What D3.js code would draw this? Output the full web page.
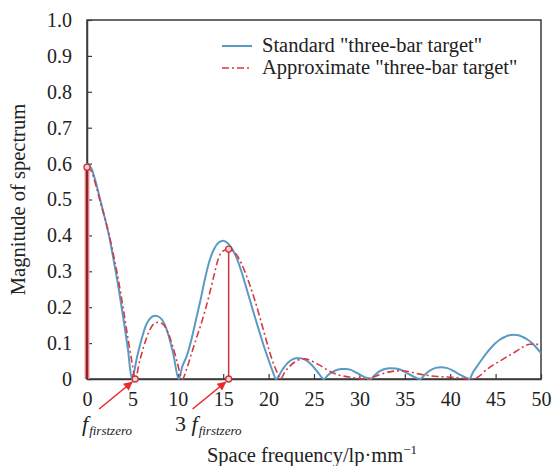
<!DOCTYPE html>
<html>
<head>
<meta charset="utf-8">
<script src="https://cdn.jsdelivr.net/npm/d3@7"></script>
<style>
body { margin: 0; background: #fff; }
svg { font-family: "Liberation Serif", "Times New Roman", serif; }
</style>
</head>
<body>
<div id="chart"></div>
<script>
// standard "three-bar target" spectrum
var stdFreq = [0, 0.5, 1, 1.5, 2, 2.5, 3, 3.5, 4, 4.5, 4.95,
    5.5, 6, 6.5, 7, 7.5, 8, 8.5, 9, 9.5, 10.1,
    10.5, 11, 11.5, 12, 12.5, 13, 13.5, 14, 14.5, 15, 15.5, 16, 16.5, 17, 17.5, 18, 18.5, 19, 19.5, 20, 20.5, 20.8,
    21.5, 22, 22.5, 23, 23.5, 24, 24.5, 25, 25.5, 26.1,
    26.5, 27, 27.5, 28, 28.5, 29, 29.5, 30, 30.5, 31.2,
    31.7, 32.2, 32.7, 33.4, 34, 34.6, 35.2, 35.8, 36.7,
    37.2, 37.8, 38.4, 39, 39.6, 40.2, 40.8, 41.4, 42.1,
    42.5, 43, 43.5, 44, 44.5, 45, 45.5, 46, 46.5, 47, 47.5, 48, 48.5, 49, 49.5, 50];
var stdMag = [0.600, 0.586, 0.545, 0.495, 0.445, 0.39, 0.322, 0.25, 0.17, 0.085, 0,
    0.06, 0.11, 0.15, 0.17, 0.176, 0.172, 0.155, 0.12, 0.07, 0,
    0.035, 0.065, 0.11, 0.165, 0.22, 0.28, 0.33, 0.362, 0.38, 0.385, 0.378, 0.362, 0.336, 0.3, 0.258, 0.215, 0.172, 0.13, 0.09, 0.053, 0.018, 0,
    0.025, 0.042, 0.053, 0.058, 0.058, 0.054, 0.045, 0.032, 0.016, 0,
    0.01, 0.019, 0.025, 0.028, 0.028, 0.026, 0.02, 0.013, 0.006, 0,
    0.011, 0.021, 0.027, 0.03, 0.029, 0.025, 0.017, 0.009, 0,
    0.012, 0.024, 0.031, 0.033, 0.031, 0.025, 0.016, 0.008, 0,
    0.018, 0.037, 0.055, 0.072, 0.087, 0.1, 0.11, 0.117, 0.122, 0.123, 0.122, 0.117, 0.11, 0.1, 0.087, 0.072];

// approximate "three-bar target" spectrum
var apxFreq = [0, 0.5, 1, 1.5, 2, 2.5, 3, 3.5, 4, 4.5, 5, 5.3,
    5.8, 6.3, 6.8, 7.3, 7.85, 8.4, 8.9, 9.4, 9.9, 10.5,
    11, 11.5, 12, 12.5, 13, 13.5, 14, 14.5, 15, 15.6, 16, 16.5, 17, 17.5, 18, 18.5, 19, 19.5, 20, 20.5, 21, 21.3,
    21.8, 22.3, 22.8, 23.4, 24, 24.6, 25.2, 25.8, 26.4, 27, 27.6, 28.3, 29, 29.8, 30.6,
    31.4, 32.2, 33, 33.8, 34.6, 35.4, 36.2, 37, 37.8, 38.6, 39.4, 40.2, 41, 41.8, 42.6,
    43.2, 44, 44.8, 45.6, 46.4, 47.2, 48, 48.8, 49.4, 50];
var apxMag = [0.59, 0.578, 0.537, 0.49, 0.445, 0.395, 0.335, 0.27, 0.195, 0.115, 0.04, 0,
    0.05, 0.095, 0.13, 0.152, 0.158, 0.152, 0.13, 0.095, 0.05, 0,
    0.03, 0.07, 0.11, 0.148, 0.19, 0.238, 0.29, 0.338, 0.357, 0.362, 0.358, 0.345, 0.322, 0.292, 0.257, 0.218, 0.175, 0.13, 0.085, 0.045, 0.015, 0,
    0.02, 0.035, 0.046, 0.054, 0.056, 0.052, 0.044, 0.036, 0.026, 0.018, 0.012, 0.008, 0.005, 0.002, 0,
    0.004, 0.012, 0.018, 0.022, 0.023, 0.021, 0.016, 0.012, 0.009, 0.007, 0.006, 0.005, 0.003, 0.001, 0,
    0.008, 0.026, 0.04, 0.052, 0.064, 0.076, 0.089, 0.097, 0.097, 0.095];

var seriesNames = ['Standard "three-bar target"', 'Approximate "three-bar target"'];
var xTicks = [0, 5, 10, 15, 20, 25, 30, 35, 40, 45, 50];
var yTicks = [0, 0.1, 0.2, 0.3, 0.4, 0.5, 0.6, 0.7, 0.8, 0.9, 1.0];
var yTickLabels = ["0", "0.1", "0.2", "0.3", "0.4", "0.5", "0.6", "0.7", "0.8", "0.9", "1.0"];

// marked points on the approximate curve
var dcMag = 0.59, firstZero = 5.3, thirdPeakFreq = 15.6, thirdPeakMag = 0.362;

var svg_width = 552, svg_height = 466;
var svg = d3.select("#chart").append("svg")
    .attr("width", svg_width)
    .attr("height", svg_height);

var margin = {top: 20, right: 11, bottom: 87, left: 87},
    width = svg_width - margin.left - margin.right,
    height = svg_height - margin.top - margin.bottom,
    g = svg.append("g").attr("transform", "translate(" + margin.left + "," + margin.top + ")");

var x = d3.scaleLinear().domain([0, 50]).range([0, width]);
var y = d3.scaleLinear().domain([0, 1]).range([height, 0]);

var axisColor = "#3a3a3a", blue = "#5a9bc6", red = "#d63a40";

// frame
g.append("rect")
    .attr("width", width)
    .attr("height", height)
    .attr("fill", "none")
    .attr("stroke", axisColor)
    .attr("stroke-width", 1.5);

// axes, ticks pointing inward
var xAxis = g.append("g")
    .attr("transform", "translate(0," + height + ")")
    .call(d3.axisBottom(x).tickValues(xTicks).tickSizeInner(-5).tickSizeOuter(0).tickPadding(13));
var yAxis = g.append("g")
    .call(d3.axisLeft(y).tickValues(yTicks).tickSizeInner(-5).tickSizeOuter(0).tickPadding(15)
        .tickFormat(function(d, i) { return yTickLabels[i]; }));

[xAxis, yAxis].forEach(function(a) {
    a.select(".domain").attr("stroke", axisColor).attr("stroke-width", 1.5);
    a.selectAll(".tick line").attr("stroke", axisColor).attr("stroke-width", 1.2);
    a.selectAll(".tick text")
        .attr("font-family", '"Liberation Serif", serif')
        .attr("font-size", 20)
        .attr("fill", "#222");
});

// curves
var stdData = stdFreq.map(function(f, i) { return [f, stdMag[i]]; });
var apxData = apxFreq.map(function(f, i) { return [f, apxMag[i]]; });

var line = d3.line()
    .x(function(d) { return x(d[0]); })
    .y(function(d) { return y(d[1]); })
    .curve(d3.curveMonotoneX);

g.append("path")
    .datum(stdData)
    .attr("fill", "none")
    .attr("stroke", blue)
    .attr("stroke-width", 2)
    .attr("d", line);

g.append("path")
    .datum(apxData)
    .attr("fill", "none")
    .attr("stroke", red)
    .attr("stroke-width", 1.6)
    .attr("stroke-dasharray", "7,3,2,3")
    .attr("d", line);

// marker lines
g.append("line")
    .attr("x1", x(0)).attr("x2", x(0))
    .attr("y1", y(0)).attr("y2", y(dcMag))
    .attr("stroke", "#f2a0a4")
    .attr("stroke-width", 5);
g.append("line")
    .attr("x1", x(0)).attr("x2", x(0))
    .attr("y1", y(0)).attr("y2", y(dcMag))
    .attr("stroke", "#8e2327")
    .attr("stroke-width", 2.5);
g.append("line")
    .attr("x1", x(thirdPeakFreq)).attr("x2", x(thirdPeakFreq))
    .attr("y1", y(0)).attr("y2", y(thirdPeakMag))
    .attr("stroke", "#c8343a")
    .attr("stroke-width", 1.5);

var dots = [[0, dcMag], [firstZero, 0], [thirdPeakFreq, 0], [thirdPeakFreq, thirdPeakMag]];
g.selectAll(".dot")
    .data(dots)
    .enter().append("circle")
    .attr("class", "dot")
    .attr("cx", function(d) { return x(d[0]); })
    .attr("cy", function(d) { return y(d[1]); })
    .attr("r", 3)
    .attr("fill", "#f7d0d2")
    .attr("stroke", "#c8343a")
    .attr("stroke-width", 1.3);

// arrows
svg.append("defs").append("marker")
    .attr("id", "arrow")
    .attr("viewBox", "0 0 10 10")
    .attr("refX", 9).attr("refY", 5)
    .attr("markerWidth", 12).attr("markerHeight", 9)
    .attr("markerUnits", "userSpaceOnUse")
    .attr("orient", "auto")
    .append("path")
    .attr("d", "M0,0L10,5L0,10z")
    .attr("fill", "#ee2a2f");

[firstZero, thirdPeakFreq].forEach(function(f) {
    var tx = x(f) - 3, ty = y(0) + 3;
    g.append("line")
        .attr("x1", tx - 33).attr("y1", ty + 27)
        .attr("x2", tx).attr("y2", ty)
        .attr("stroke", "#ee2a2f")
        .attr("stroke-width", 1.6)
        .attr("marker-end", "url(#arrow)");
});

// f_firstzero labels
function fLabel(px, py, prefix) {
    var t = svg.append("text")
        .attr("x", px).attr("y", py)
        .attr("font-family", '"Liberation Serif", serif')
        .attr("fill", "#222");
    if (prefix) {
        t.append("tspan").attr("font-size", 22).text(prefix + " ");
    }
    t.append("tspan").attr("font-size", 22).attr("font-style", "italic").text("f");
    t.append("tspan").attr("font-size", 13).attr("font-style", "italic").attr("dx", 1).attr("dy", 4).text("firstzero");
}
fLabel(82, 431, null);
fLabel(175, 431, "3");

// axis titles
svg.append("text")
    .attr("x", margin.left + width / 2 - 2)
    .attr("y", 462)
    .attr("text-anchor", "middle")
    .attr("font-size", 20.5)
    .attr("fill", "#222")
    .text("Space frequency/lp\u00b7mm")
    .append("tspan")
    .attr("font-size", 13)
    .attr("dy", -8)
    .text("\u22121");

svg.append("text")
    .attr("transform", "translate(25," + (margin.top + height / 2) + ") rotate(-90)")
    .attr("text-anchor", "middle")
    .attr("font-size", 20.5)
    .attr("fill", "#222")
    .text("Magnitude of spectrum");

// legend
var legend = svg.selectAll(".legend")
    .data(seriesNames)
    .enter().append("g")
    .attr("class", "legend")
    .attr("transform", function(d, i) { return "translate(222," + (46 + i * 22) + ")"; });

legend.append("line")
    .attr("x1", 0).attr("x2", 30)
    .attr("stroke", function(d, i) { return i === 0 ? blue : red; })
    .attr("stroke-width", function(d, i) { return i === 0 ? 2 : 1.6; })
    .attr("stroke-dasharray", function(d, i) { return i === 0 ? null : "7,3,2,3"; });

legend.append("text")
    .attr("x", 40)
    .attr("y", 6)
    .attr("font-size", 20.5)
    .attr("fill", "#222")
    .text(function(d) { return d; });
</script>
</body>
</html>
